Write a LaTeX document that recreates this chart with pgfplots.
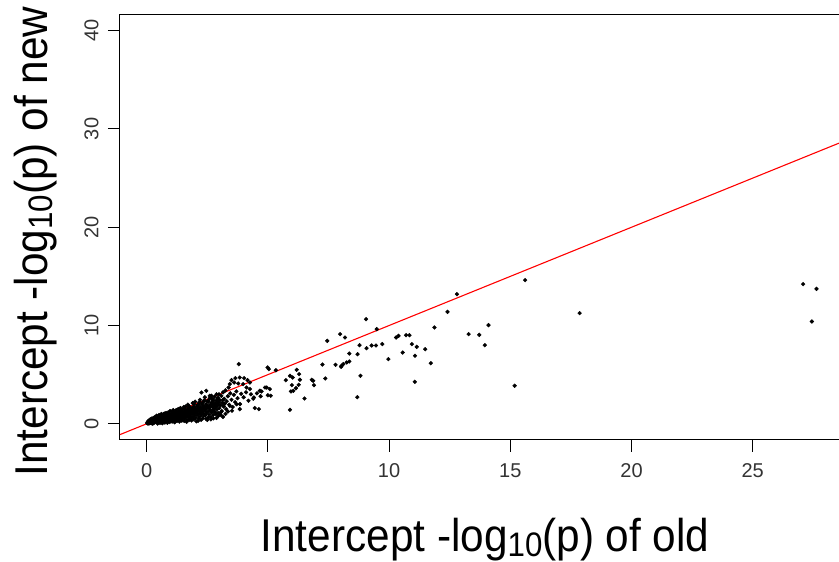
\documentclass[border=0pt]{standalone}
\usepackage{pgfplots}
\pgfplotsset{compat=1.18}
\usepackage{fontspec}
\setmainfont{Liberation Sans}
\newfontfamily\labelfont{Liberation Sans}[FakeStretch=0.92]
\newcommand{\tickfont}{\fontsize{20}{24}\selectfont}
\newcommand{\labfont}{\labelfont\fontsize{46}{54}\selectfont}
\newcommand{\sub}[1]{\raisebox{-5pt}{\fontsize{34}{38}\selectfont #1}}
\begin{document}
\begin{tikzpicture}
\begin{axis}[
  name=ax,
  scale only axis,
  width=720pt, height=425pt,
  xmin=-1.1, xmax=28.6, ymin=-1.65, ymax=41.6,
  axis line style={black, line width=1pt},
  xtick={0,5,10,15,20,25},
  ytick={0,10,20,30,40},
  xtick pos=bottom, ytick pos=left,
  tick align=outside,
  major tick length=12pt,
  tick style={black, line width=1pt},
  /pgf/number format/assume math mode=true,
  xticklabel style={font=\tickfont, text=black!80, yshift=-8pt},
  yticklabel style={font=\tickfont, text=black!80, xshift=-6pt, rotate=90, anchor=south},
  xlabel={Intercept -log\sub{10}(p) of old},
  ylabel={Intercept -log\sub{10}(p) of new},
  x label style={font=\labfont, at={(axis description cs:0.507,-0.2612)}, anchor=base},
  y label style={font=\labfont, at={(axis description cs:-0.1,0.467)}, anchor=base},
]
\addplot[only marks, mark=*, mark size=1.9pt, mark options={draw=none, fill=black}] table {
x y
0.02 0.10
0.05 0.25
0.06 0.02
0.08 0.15
0.10 0.35
0.11 0.05
0.13 0.20
0.15 0.45
0.16 0.10
0.18 0.28
0.20 0.05
0.21 0.52
0.23 0.18
0.25 0.33
0.26 0.08
0.28 0.60
0.30 0.22
0.31 0.40
0.33 0.12
0.35 0.70
0.36 0.30
0.38 0.48
0.40 0.18
0.41 0.82
0.43 0.35
0.45 0.55
0.46 0.10
0.48 0.65
0.50 0.28
0.51 0.90
0.53 0.42
0.55 0.20
0.56 0.75
0.58 0.50
0.60 0.32
0.61 1.00
0.63 0.60
0.65 0.15
0.66 0.45
0.68 0.85
0.70 0.38
0.71 0.68
0.73 0.25
0.75 1.05
0.76 0.55
0.78 0.72
0.80 0.30
0.81 0.95
0.83 0.48
0.85 0.62
0.86 0.20
0.88 1.15
0.90 0.70
0.91 0.42
0.93 0.85
0.95 0.55
0.96 1.30
0.98 0.35
1.00 0.78
1.02 0.62
1.03 1.00
1.05 0.45
1.07 0.88
1.08 1.25
1.10 0.55
1.12 0.72
1.13 0.30
1.15 1.05
1.17 0.65
1.18 0.90
1.20 0.48
1.22 1.40
1.23 0.80
1.25 0.60
1.27 1.10
1.28 0.38
1.30 0.95
1.32 0.70
1.33 1.20
1.35 0.55
1.37 0.85
1.38 1.55
1.40 0.65
1.42 1.00
1.43 0.45
1.45 1.30
1.47 0.78
1.48 0.95
1.50 0.60
1.52 1.15
1.53 1.70
1.55 0.85
1.57 0.50
1.58 1.05
1.60 1.35
1.62 0.72
1.63 0.95
1.65 1.20
1.67 0.40
1.68 1.50
1.70 0.88
1.72 1.10
1.73 0.65
1.75 1.80
1.77 1.00
1.78 1.30
1.80 0.75
1.82 1.20
1.83 0.55
1.85 1.45
1.87 0.95
1.88 1.65
1.90 1.10
1.92 0.70
1.93 1.35
1.95 2.00
1.97 0.90
1.98 1.20
2.00 1.55
2.02 0.60
2.03 1.05
2.05 1.40
2.07 1.80
2.08 0.85
2.10 1.25
2.12 0.30
2.13 1.60
2.15 1.00
2.17 2.20
2.18 1.35
2.20 0.75
2.22 1.70
2.23 1.15
2.25 0.95
2.27 1.50
2.28 2.05
2.30 1.25
2.32 0.55
2.33 1.85
2.35 1.05
2.37 1.45
2.38 2.40
2.40 1.65
2.42 0.85
2.43 1.30
2.45 2.00
2.47 1.10
2.48 1.55
2.50 0.40
2.52 1.80
2.53 1.25
2.55 2.25
2.57 0.95
2.58 1.60
2.60 2.60
2.62 1.40
2.63 1.95
2.65 0.70
2.67 1.15
2.68 2.15
2.70 1.75
2.72 1.35
2.73 2.45
2.75 0.90
2.77 1.90
2.78 1.55
2.80 2.75
2.82 1.20
2.83 2.05
2.85 1.70
2.87 2.35
2.88 0.60
2.90 1.45
2.92 2.55
2.93 1.85
2.95 1.10
2.97 2.20
2.98 3.00
3.00 1.60
3.02 2.40
3.05 1.90
3.08 2.85
3.10 1.30
3.12 2.15
3.15 3.20
3.18 1.75
3.20 2.55
3.22 2.05
3.25 3.40
3.28 1.50
3.30 2.30
3.35 2.80
3.40 1.95
3.45 3.10
3.50 2.45
3.55 1.70
3.60 2.95
3.65 2.20
3.70 3.30
3.75 2.60
3.85 2.00
3.90 3.05
4.00 2.70
4.10 3.20
4.20 2.35
4.30 3.00
4.40 2.55
4.55 3.10
4.70 2.80
5.00 2.90
0.03 0.05
0.07 0.12
0.12 0.10
0.17 0.18
0.22 0.25
0.27 0.20
0.32 0.30
0.37 0.25
0.42 0.38
0.47 0.32
0.52 0.45
0.57 0.38
0.62 0.52
0.67 0.48
0.72 0.58
0.77 0.50
0.82 0.65
0.87 0.58
0.92 0.72
0.97 0.62
1.01 0.80
1.06 0.70
1.11 0.85
1.16 0.78
1.21 0.92
1.26 0.82
1.31 1.00
1.36 0.90
1.41 1.08
1.46 0.98
1.51 1.15
1.56 1.02
1.61 1.22
1.66 1.10
1.71 1.28
1.76 1.18
1.81 1.35
1.86 1.22
1.91 1.42
1.96 1.30
2.01 1.48
2.06 1.35
2.11 1.52
2.16 1.42
2.21 1.60
2.26 1.45
2.31 1.65
2.36 1.55
2.41 1.72
2.46 1.62
2.51 1.78
2.56 1.70
2.61 1.85
2.66 1.78
2.71 1.95
2.76 1.82
2.81 2.00
2.86 1.92
2.91 2.08
2.96 1.98
0.10 0.30
0.20 0.40
0.30 0.55
0.40 0.65
0.50 0.75
0.25 0.00
0.45 0.02
0.60 0.90
0.70 1.00
0.80 1.10
0.90 1.05
1.00 1.25
1.10 1.40
1.20 1.20
1.30 1.50
1.40 1.60
1.50 1.45
1.60 1.75
1.70 1.95
1.80 1.60
1.90 2.10
2.00 2.25
2.10 1.90
2.20 2.45
2.30 2.10
2.40 2.70
2.50 2.30
2.60 2.85
2.70 2.55
0.55 0.08
0.65 0.05
0.75 0.12
0.85 0.10
0.95 0.18
1.05 0.22
1.15 0.15
1.25 0.28
1.35 0.22
1.45 0.32
1.55 0.28
1.65 0.20
1.75 0.38
1.85 0.33
1.95 0.45
2.05 0.25
2.15 0.55
2.25 0.40
2.35 0.80
2.45 0.50
2.55 0.65
2.65 0.45
2.75 0.55
2.85 1.00
2.95 0.80
3.05 1.15
3.15 0.70
3.25 1.00
3.35 1.25
0.15 0.20
0.35 0.45
0.55 0.60
0.75 0.80
0.95 0.98
1.15 1.15
1.35 1.30
1.55 1.50
1.75 1.55
1.95 1.70
2.15 1.95
2.35 2.25
2.55 2.40
2.75 2.30
2.95 2.65
3.15 2.45
9.05 10.65
9.49 9.63
7.98 9.12
8.18 8.78
7.45 8.44
12.41 11.39
11.87 9.80
13.28 9.12
13.72 9.05
10.39 8.95
10.29 8.78
10.70 9.02
10.84 9.02
8.78 8.00
9.07 7.69
9.28 7.97
9.46 7.97
9.72 8.11
10.94 8.11
11.14 7.83
11.49 7.59
10.56 7.25
11.07 6.92
11.72 6.17
9.97 6.58
8.36 7.15
8.70 7.08
8.36 6.34
8.25 6.24
8.11 6.07
8.04 5.90
8.02 5.80
7.79 6.00
7.25 6.03
7.37 4.61
8.82 4.88
11.06 4.27
8.69 2.71
6.51 2.57
5.91 1.42
5.74 4.44
5.91 4.88
6.02 4.71
6.19 5.49
6.29 5.05
6.32 4.48
6.27 3.97
5.99 3.93
6.16 3.63
6.05 3.36
5.95 3.29
6.81 4.48
6.87 4.37
6.90 3.93
15.61 14.62
12.80 13.19
17.86 11.26
14.10 10.04
13.95 8.00
15.18 3.87
27.08 14.21
27.63 13.73
27.44 10.41
3.80 6.07
4.99 5.73
5.04 5.56
5.33 5.45
3.50 4.44
3.66 4.65
3.84 4.71
4.02 4.65
4.16 4.44
4.26 4.20
3.43 4.04
3.61 4.20
3.78 4.10
3.98 4.04
4.12 3.69
4.26 3.53
3.38 3.69
4.74 3.29
4.95 3.69
5.12 2.85
4.46 1.60
4.63 1.49
3.52 1.32
3.06 0.89
2.26 3.18
2.46 3.36
2.67 2.85
2.88 3.01
4.42 2.68
4.67 3.36
4.88 3.69
5.08 3.53
3.02 0.99
3.43 1.83
3.71 1.99
3.84 1.49
3.16 1.83
2.74 1.32
};
\addplot[red, line width=1.1pt] coordinates {(-1.1,-1.1) (28.6,28.6)};
\end{axis}
\pgfresetboundingbox
\path ([shift={(-120pt,-122pt)}]ax.south west) rectangle ([shift={(719pt,440pt)}]ax.south west);
\end{tikzpicture}
\end{document}
